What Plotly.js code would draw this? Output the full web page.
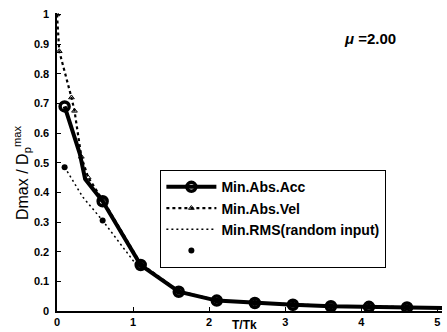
<!DOCTYPE html>
<html>
<head>
<meta charset="utf-8">
<script src="https://cdn.plot.ly/plotly-3.0.1.min.js"></script>
<style>
  html, body { margin: 0; padding: 0; background: #fff; }
  #chart { width: 447px; height: 332px; }
</style>
</head>
<body>
<div id="chart"></div>
<script>
// Period ratio T/Tk and normalised peak displacement Dmax / Dp^max
const accT = [0.1, 0.3, 0.37, 0.6, 1.1, 1.6, 2.1, 2.6, 3.1, 3.6, 4.1, 4.6, 5.1];
const accD = [0.69, 0.53, 0.445, 0.37, 0.155, 0.065, 0.035, 0.027, 0.021, 0.016, 0.014, 0.012, 0.01];

const velT = [0, 0.03, 0.19, 0.23, 0.32, 0.41, 0.6, 1.1, 1.6, 2.1, 2.6, 3.1, 3.6, 4.1, 4.6, 5.1];
const velD = [1.0, 0.876, 0.72, 0.675, 0.52, 0.45, 0.375, 0.16, 0.067, 0.036, 0.028, 0.022, 0.017, 0.015, 0.013, 0.011];

const rmsT = [0.1, 0.34, 0.6, 1.0, 1.1, 1.6, 2.1, 2.6, 3.1, 3.6, 4.1, 4.6, 5.1];
const rmsD = [0.485, 0.384, 0.305, 0.17, 0.155, 0.065, 0.035, 0.027, 0.021, 0.016, 0.014, 0.012, 0.01];

const randT = [0.1, 0.6, 1.1, 1.6, 2.1, 2.6, 3.1, 3.6, 4.1, 4.6];
const randD = [0.485, 0.305, 0.155, 0.065, 0.035, 0.027, 0.021, 0.016, 0.014, 0.012];

const seriesNames = ['Min.Abs.Acc', 'Min.Abs.Vel', 'Min.RMS(random input)', ''];
const xTicks = [0, 1, 2, 3, 4, 5];
const yTicks = [0, 0.1, 0.2, 0.3, 0.4, 0.5, 0.6, 0.7, 0.8, 0.9, 1];

// circles only on the half-period grid 0.1, 0.6, 1.1, ...
const onGrid = t => t < 5 && Math.abs((t - 0.1) / 0.5 - Math.round((t - 0.1) / 0.5)) < 1e-6;
const accMarked = accT.map((t, i) => onGrid(t) ? i : -1).filter(i => i >= 0);

const FONT = 'Liberation Sans, Arial, sans-serif';

const traces = [
  {
    x: velT, y: velD, name: seriesNames[1], legendrank: 2,
    mode: 'lines+markers',
    line: { color: '#000', width: 2.2, dash: 'dot' },
    marker: { symbol: 'triangle-up-open', size: 5, color: '#000', line: { width: 1 } }
  },
  {
    x: rmsT, y: rmsD, name: seriesNames[2], legendrank: 3,
    mode: 'lines',
    line: { color: '#000', width: 1.5, dash: '2px,3px' }
  },
  {
    x: randT, y: randD, name: seriesNames[3], legendrank: 4,
    mode: 'markers',
    marker: { symbol: 'circle', size: 6, color: '#000' }
  },
  {
    x: accT, y: accD, name: seriesNames[0], legendrank: 1,
    mode: 'lines+markers',
    line: { color: '#000', width: 4 },
    marker: { symbol: 'circle-open', size: 9, color: '#000', line: { width: 3.5, color: '#000' } },
    selectedpoints: accMarked,
    selected: { marker: { opacity: 1 } },
    unselected: { marker: { opacity: 0 } }
  }
];

const layout = {
  width: 447, height: 332,
  margin: { l: 57, r: 5, t: 13, b: 21 },
  paper_bgcolor: '#fff', plot_bgcolor: '#fff',
  font: { family: FONT, color: '#000' },
  showlegend: true,
  legend: {
    x: 0.268, y: 0.473, xanchor: 'left', yanchor: 'top',
    bgcolor: '#fff', bordercolor: '#000', borderwidth: 1.2,
    font: { family: FONT, size: 14, color: '#000', weight: 'bold' },
    itemwidth: 50, tracegroupgap: 0
  },
  xaxis: {
    range: [0, 5.06], tickvals: xTicks, ticktext: xTicks.map(String),
    showgrid: false, zeroline: false,
    showline: true, linecolor: '#000', linewidth: 1.8,
    ticks: 'inside', ticklen: 4, tickcolor: '#000',
    tickfont: { family: FONT, size: 11, weight: 'bold' }
  },
  yaxis: {
    range: [0, 1.005], tickvals: yTicks, ticktext: yTicks.map(String),
    showgrid: false, zeroline: false,
    showline: true, linecolor: '#000', linewidth: 1.6,
    ticks: 'inside', ticklen: 4, tickcolor: '#000',
    tickfont: { family: FONT, size: 11, weight: 'bold' },
    ticklabelstandoff: 4
  },
  annotations: [
    {
      text: 'T/Tk', xref: 'paper', yref: 'paper', x: 0.488, y: 0,
      xanchor: 'center', yanchor: 'middle', yshift: -14, showarrow: false,
      font: { family: FONT, size: 12, weight: 'bold' }
    },
    {
      text: 'Dmax / D<sub>p</sub><sup>max</sup>', xref: 'paper', yref: 'paper',
      x: 0, y: 0.463, xshift: -35, xanchor: 'center', yanchor: 'middle',
      textangle: -90, showarrow: false,
      font: { family: FONT, size: 16 }
    },
    {
      text: '<i>μ</i> =2.00', xref: 'paper', yref: 'paper', x: 0.813, y: 0.916,
      xanchor: 'center', yanchor: 'middle', showarrow: false,
      font: { family: FONT, size: 15, weight: 'bold' }
    }
  ]
};

Plotly.newPlot('chart', traces, layout, { displayModeBar: false, staticPlot: true });
</script>
</body>
</html>
